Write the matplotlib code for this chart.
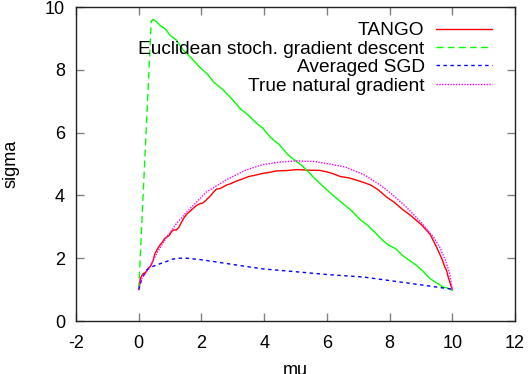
import matplotlib
matplotlib.use("Agg")
import matplotlib.pyplot as plt

plt.rcParams['font.family'] = ['Liberation Sans', 'DejaVu Sans']
plt.rcParams['axes.unicode_minus'] = False

# TANGO (red)
tango_mu = [0.0, 0.05, 0.13, 0.22, 0.3, 0.38, 0.45, 0.52, 0.6, 0.68, 0.75, 0.82, 0.89, 0.97, 1.05,
            1.12, 1.2, 1.28, 1.35, 1.44, 1.53, 1.64, 1.75, 1.85, 1.94, 2.05, 2.15, 2.23, 2.3, 2.4,
            2.48, 2.6, 2.8, 2.95, 3.1, 3.3, 3.5, 3.7, 3.95, 4.2, 4.4, 4.7, 5.03, 5.3, 5.5, 5.75,
            6.0, 6.2, 6.43, 6.7, 6.9, 7.15, 7.4, 7.65, 7.9, 8.15, 8.44, 8.65, 8.8, 9.0, 9.17,
            9.3, 9.4, 9.5, 9.6, 9.68, 9.75, 9.82, 9.87, 9.94, 10.0]
tango_sigma = [1.0, 1.35, 1.5, 1.55, 1.68, 1.75, 1.9, 2.15, 2.3, 2.42, 2.5, 2.62, 2.67, 2.72, 2.85,
               2.9, 2.9, 2.98, 3.12, 3.28, 3.4, 3.5, 3.6, 3.68, 3.73, 3.76, 3.85, 3.93, 4.0, 4.12,
               4.2, 4.22, 4.33, 4.38, 4.45, 4.52, 4.6, 4.64, 4.7, 4.74, 4.78, 4.79, 4.82, 4.81, 4.8,
               4.8, 4.75, 4.69, 4.6, 4.56, 4.5, 4.42, 4.33, 4.17, 3.95, 3.78, 3.53, 3.38, 3.25,
               3.08, 2.9, 2.75, 2.55, 2.35, 2.13, 1.95, 1.75, 1.6, 1.4, 1.18, 1.0]

# Euclidean stochastic gradient descent (green)
esgd_mu = [0.0, 0.4, 0.45, 0.55, 0.7, 0.85, 1.0, 1.2, 1.4, 1.65, 1.94, 2.2, 2.4, 2.7, 3.0, 3.25,
           3.5, 3.75, 3.95, 4.2, 4.5, 4.75, 5.0, 5.2, 5.35, 5.6, 5.9, 6.2, 6.5, 6.8, 7.07, 7.3,
           7.5, 7.75, 7.96, 8.2, 8.4, 8.6, 8.85, 9.05, 9.3, 9.5, 9.7, 9.85, 10.0]
esgd_sigma = [1.0, 9.55, 9.6, 9.55, 9.4, 9.3, 9.1, 8.95, 8.65, 8.4, 8.09, 7.85, 7.6, 7.35, 7.04,
              6.75, 6.55, 6.3, 6.15, 5.85, 5.6, 5.3, 5.1, 4.95, 4.81, 4.55, 4.27, 4.0, 3.75, 3.5,
              3.22, 3.05, 2.85, 2.6, 2.42, 2.3, 2.1, 1.95, 1.78, 1.6, 1.34, 1.22, 1.08, 1.05, 0.98]

# Averaged SGD (blue)
asgd_mu = [0.0, 0.1, 0.25, 0.45, 0.67, 0.9, 1.08, 1.3, 1.53, 2.0, 2.48, 3.2, 3.95, 5.0, 6.0, 7.17, 8.5, 9.94, 10.0]
asgd_sigma = [1.0, 1.35, 1.62, 1.74, 1.82, 1.9, 1.97, 2.0, 2.0, 1.95, 1.88, 1.77, 1.66, 1.57, 1.48, 1.4, 1.22, 1.02, 1.0]

# True natural gradient (magenta)
tng_mu = [0.0, 0.1, 0.35, 0.6, 0.89, 1.2, 1.53, 2.15, 2.8, 3.4, 3.95, 4.5, 5.03, 5.6, 6.1, 6.6,
          7.2, 7.7, 8.1, 8.53, 9.0, 9.4, 9.6, 9.78, 9.92, 10.0]
tng_sigma = [1.0, 1.35, 1.72, 2.2, 2.67, 3.1, 3.47, 4.1, 4.5, 4.8, 4.98, 5.06, 5.1, 5.08, 5.0, 4.9,
             4.65, 4.33, 4.02, 3.63, 3.15, 2.67, 2.35, 1.94, 1.5, 1.0]

FS = 13
LFS = 13.8

fig = plt.figure(figsize=(5.28, 3.74), dpi=100)
ax = fig.add_axes([76 / 528, 1 - 321 / 374, (515 - 76) / 528, (321 - 7) / 374])

ax.plot(tango_mu, tango_sigma, color='#ff0000', lw=1.0, label='TANGO')
ax.plot(esgd_mu[:3], esgd_sigma[:3], color='#00ff00', lw=1.0, dashes=(5, 3),
        label='Euclidean stoch. gradient descent')
ax.plot(esgd_mu[2:], esgd_sigma[2:], color='#00ff00', lw=1.0)
ax.plot(asgd_mu, asgd_sigma, color='#0000ff', lw=1.0, dashes=(2.5, 2.5), label='Averaged SGD')
ax.plot(tng_mu, tng_sigma, color='#ff00ff', lw=1.0, dashes=(1, 1), label='True natural gradient')

ax.set_xlim(-2, 12)
ax.set_ylim(0, 10)
ax.set_xticks(range(-2, 13, 2))
ax.set_yticks(range(0, 11, 2))
ax.tick_params(direction='in', length=6, width=1, color='#808080', top=True, right=True,
               labelsize=FS)
ax.tick_params(axis='x', pad=10)
ax.tick_params(axis='y', pad=8)
for s in ax.spines.values():
    s.set_color('#222222')
    s.set_linewidth(1)

ax.set_xlabel('mu', fontsize=FS, labelpad=7)
ax.set_ylabel('sigma', fontsize=FS, labelpad=18)

leg = ax.legend(loc='upper right', frameon=False, markerfirst=False, fontsize=LFS,
                handlelength=2.9, labelspacing=0.05, borderaxespad=0, borderpad=0,
                handletextpad=0.62, bbox_to_anchor=(492 / 528, 1 - 22 / 374),
                bbox_transform=fig.transFigure)

fig.savefig('out.png', dpi=100)
